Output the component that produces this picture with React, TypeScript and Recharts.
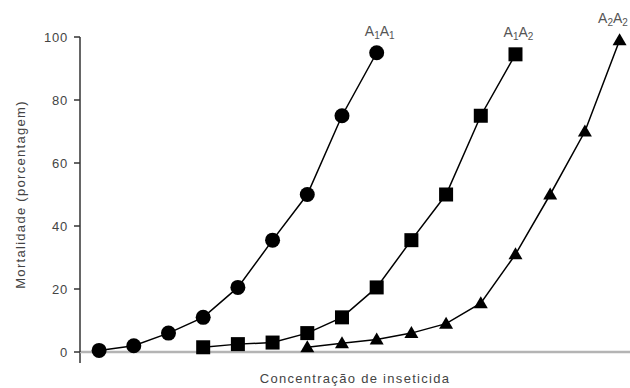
import { LineChart, Line, XAxis, YAxis, ReferenceLine, LabelList } from 'recharts';

// concentration steps (arbitrary units, no tick labels on the original)
const a1a1Conc = [0, 1, 2, 3, 4, 5, 6, 7, 8];
const a1a1Mort = [0.5, 2, 6, 11, 20.5, 35.5, 50, 75, 95];

const a1a2Conc = [3, 4, 5, 6, 7, 8, 9, 10, 11, 12];
const a1a2Mort = [1.5, 2.5, 3, 6, 11, 20.5, 35.5, 50, 75, 94.5];

const a2a2Conc = [6, 7, 8, 9, 10, 11, 12, 13, 14, 15];
const a2a2Mort = [1.5, 2.8, 4, 6, 9, 15.5, 31, 50, 70, 99];

const xTicks = [0.5, 1.5, 2.5, 3.5, 4.5, 5.5, 6.5, 7.5, 8.5, 9.5, 10.5, 11.5, 12.5, 13.5, 14.5];
const yTicks = [0, 20, 40, 60, 80, 100];
const xDomain = [-0.55, 15.3];

const W = 630;
const H = 388;

const toRows = (xs: number[], ys: number[]) => xs.map((x, i) => ({ x, y: ys[i] }));

const series = [
  { id: 'a1a1', rows: toRows(a1a1Conc, a1a1Mort), shape: 'circle', name: ['1', '1'] },
  { id: 'a1a2', rows: toRows(a1a2Conc, a1a2Mort), shape: 'square', name: ['1', '2'] },
  { id: 'a2a2', rows: toRows(a2a2Conc, a2a2Mort), shape: 'triangle', name: ['2', '2'] },
];

const dotFor = (shape: string) => (props: any) => {
  const { cx, cy, index } = props;
  if (cx == null || cy == null) return <g key={index} />;
  if (shape === 'circle') return <circle key={index} cx={cx} cy={cy} r={7.5} fill="#000" />;
  if (shape === 'square')
    return <rect key={index} x={cx - 7} y={cy - 7} width={14} height={14} fill="#000" />;
  return (
    <polygon
      key={index}
      points={`${cx},${cy - 7} ${cx + 7},${cy + 5} ${cx - 7},${cy + 5}`}
      fill="#000"
    />
  );
};

// name above the last point; kept inside the picture at the right edge
const nameLabel = (subs: string[], last: number) => (props: any) => {
  const { x, y, index } = props;
  if (index !== last) return null;
  const half = 16;
  const cx = Math.min(x + 3, W - half - 1);
  return (
    <text x={cx} y={y - 17} textAnchor="middle" fontSize={14} fill="#555" fontFamily="Liberation Sans, Arial">
      <tspan>A</tspan>
      <tspan dy={3} fontSize={10}>{subs[0]}</tspan>
      <tspan dy={-3}>A</tspan>
      <tspan dy={3} fontSize={10}>{subs[1]}</tspan>
    </text>
  );
};

export default function App() {
  return (
    <div style={{ position: 'absolute', left: 0, top: 0, width: W, height: H, background: '#fff' }}>
      <LineChart width={W} height={H} margin={{ top: 37, right: 0, bottom: 0, left: 0 }}>
        <XAxis
          type="number"
          dataKey="x"
          domain={xDomain}
          allowDataOverflow
          ticks={xTicks}
          tick={false}
          tickSize={4}
          height={36}
          axisLine={{ stroke: '#b4b4b4', strokeWidth: 2.5 }}
          tickLine={{ stroke: '#666', strokeWidth: 1 }}
          label={{
            value: 'Concentração de inseticida',
            position: 'insideBottom',
            offset: 5,
            fill: '#444',
            fontSize: 13,
            letterSpacing: 1.3,
            fontFamily: 'Liberation Sans, Arial',
          }}
        />
        <YAxis
          type="number"
          dataKey="y"
          domain={[0, 100]}
          ticks={yTicks}
          width={80}
          tickSize={6}
          tickMargin={6}
          axisLine={{ stroke: '#333', strokeWidth: 1.5 }}
          tickLine={{ stroke: '#333', strokeWidth: 1.5 }}
          tick={{ fill: '#444', fontSize: 13, fontFamily: 'Liberation Sans, Arial', letterSpacing: 0.8 }}
          label={{
            value: 'Mortalidade (porcentagem)',
            angle: -90,
            position: 'insideLeft',
            offset: 20,
            fill: '#444',
            fontSize: 13,
            letterSpacing: 1.3,
            fontFamily: 'Liberation Sans, Arial',
            style: { textAnchor: 'middle' },
          }}
        />
        <ReferenceLine
          segment={[
            { x: xDomain[0], y: 0 },
            { x: xDomain[0], y: -3.5 },
          ]}
          ifOverflow="visible"
          stroke="#333"
          strokeWidth={1.5}
        />
        {series.map((s) => (
          <Line
            key={s.id}
            data={s.rows}
            dataKey="y"
            type="linear"
            stroke="#000"
            strokeWidth={1.5}
            dot={dotFor(s.shape)}
            activeDot={false}
            isAnimationActive={false}
          >
            <LabelList dataKey="y" content={nameLabel(s.name, s.rows.length - 1)} />
          </Line>
        ))}
      </LineChart>
    </div>
  );
}
